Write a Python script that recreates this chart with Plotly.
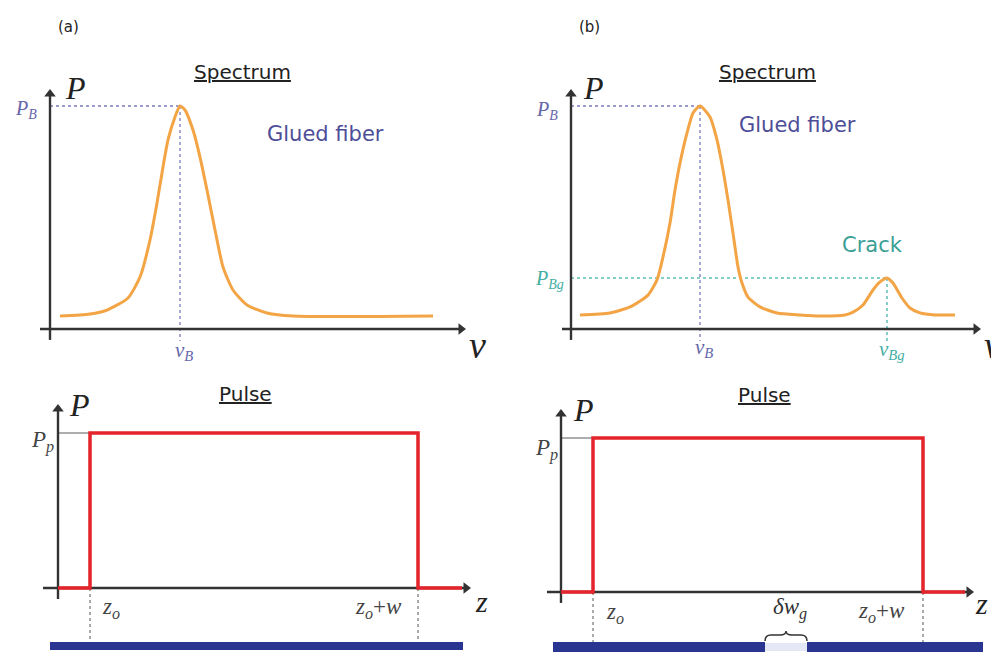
import plotly.graph_objects as go

W, H = 991, 652

# ---------------- data (normalised power P, frequency nu / position z, arbitrary units) ----------------
# (a) spectrum: glued fiber only
spec_a_nu = [1.0, 4.0, 5.7, 7.8, 9.0, 10.0, 10.7, 11.2, 11.8, 12.5, 13.0, 13.5, 14.3, 15.0,
             15.7, 16.5, 17.3, 18.3, 19.7, 21.7, 24.3, 38.3]
spec_a_p = [0.058, 0.067, 0.085, 0.139, 0.233, 0.399, 0.565, 0.700, 0.848, 0.951, 1.0, 0.982,
            0.892, 0.771, 0.623, 0.444, 0.278, 0.175, 0.108, 0.072, 0.058, 0.058]
# (b) spectrum: glued fiber + crack
spec_b_nu = [0.9, 3.9, 5.9, 7.7, 8.6, 9.2, 9.9, 10.4, 10.9, 11.6, 12.2, 12.9,
             13.9, 14.6, 15.2, 15.7, 16.2, 16.7, 17.1, 17.7, 18.9, 20.6, 22.9, 24.9,
             27.4, 28.2, 29.2, 30.2, 30.9, 31.6, 32.2, 33.1, 33.9, 34.9, 36.4, 38.4]
spec_b_p = [0.063, 0.072, 0.099, 0.152, 0.220, 0.323, 0.475, 0.623, 0.744, 0.879, 0.969, 1.0,
            0.951, 0.848, 0.713, 0.578, 0.430, 0.278, 0.206, 0.143, 0.099, 0.072, 0.063, 0.058,
            0.063, 0.076, 0.108, 0.175, 0.211, 0.229, 0.206, 0.139, 0.094, 0.072, 0.063, 0.063]
NU_B_A, NU_B_B = 13.0, 12.9
P_B = 1.0
NU_BG, P_BG = 31.6, 0.229

# pulses
pulse_a_z = [0, 3.2, 3.2, 36.0, 36.0, 40.4]
pulse_b_z = [0, 3.2, 3.2, 36.2, 36.2, 40.4]
pulse_p = [0, 0, 1, 1, 0, 0]
P_P = 1.0
Z0_A, ZW_A = 3.2, 36.0
Z0_B, ZW_B = 3.2, 36.2

# fiber segments under the pulses
fiber_a_z = [-0.8, 40.5]
fiber_b_z = [-0.8, 42.2]
gap_b_z = [20.4, 24.6]

# ---------------- geometry ----------------
PANELS = [
    # x ref, y ref, pixel box (x0,x1,y0,y1), origin px, px per unit
    ("x", "y", (0, 495, 40, 372), (50, 329), (10, 223)),
    ("x2", "y2", (500, 991, 40, 372), (571, 329), (10, 223)),
    ("x3", "y3", (0, 495, 375, 652), (58, 588), (10, 155)),
    ("x4", "y4", (500, 991, 375, 652), (561, 592), (10, 154)),
]
SCALE = {p[0]: p[4] for p in PANELS}

fig = go.Figure()
layout = dict(width=W, height=H, margin=dict(l=0, r=0, t=0, b=0),
              paper_bgcolor="white", plot_bgcolor="white", showlegend=False,
              hovermode=False)
for xr, yr, (bx0, bx1, by0, by1), (ox, oy), (sx, sy) in PANELS:
    xk = "xaxis" + xr[1:]
    yk = "yaxis" + yr[1:]
    common = dict(showgrid=False, zeroline=False, showticklabels=False, ticks="",
                  showline=False, fixedrange=True)
    layout[xk] = dict(domain=[bx0 / W, bx1 / W], range=[(bx0 - ox) / sx, (bx1 - ox) / sx],
                      anchor=yr, **common)
    layout[yk] = dict(domain=[1 - by1 / H, 1 - by0 / H], range=[(oy - by1) / sy, (oy - by0) / sy],
                      anchor=xr, **common)
fig.update_layout(**layout)

AX = "#333333"
ORANGE = "#f3a445"
RED = "#e5232a"
BLUE_T = "#6666aa"
BLUE_L = "#7b7bbd"
TEAL_T = "#45aea4"
TEAL_L = "#5cc0b6"
NAVY = "#293590"
SERIF = "Liberation Serif"
SANS = "DejaVu Sans"


def line(xs, ys, xr, yr, color, width, dash="solid"):
    fig.add_trace(go.Scatter(x=xs, y=ys, xaxis=xr, yaxis=yr, mode="lines",
                             line=dict(color=color, width=width, dash=dash),
                             hoverinfo="skip"))


def head(xr, yr, x, y, symbol):
    fig.add_trace(go.Scatter(x=[x], y=[y], xaxis=xr, yaxis=yr, mode="markers",
                             marker=dict(symbol=symbol, size=10, color=AX,
                                         line=dict(width=0)),
                             hoverinfo="skip"))


def axes(xr, yr, x0, x1, y0, y1):
    sx, sy = SCALE[xr]
    line([x0, x1 - 4 / sx], [0, 0], xr, yr, AX, 2.4)
    line([0, 0], [y0, y1 - 4 / sy], xr, yr, AX, 2.4)
    return (lambda: (head(xr, yr, x1 - 4 / sx, 0, "triangle-right"),
                     head(xr, yr, 0, y1 - 4 / sy, "triangle-up")))


annotations = []


def ptext(text, x, y, size, color, family, **kw):
    d = dict(text=text, x=x / W, y=1 - y / H, xref="paper", yref="paper", showarrow=False,
             font=dict(size=size, color=color, family=family), xanchor="center", yanchor="middle")
    d.update(kw)
    annotations.append(d)


def dtext(text, xr, yr, x, y, xs, ys, size, color):
    annotations.append(dict(text=text, x=x, y=y, xref=xr, yref=yr, showarrow=False,
                            xshift=xs, yshift=ys, xanchor="center", yanchor="middle",
                            font=dict(size=size, color=color, family=SERIF)))


# ---------- (a) spectrum ----------
line([0, NU_B_A], [P_B, P_B], "x", "y", BLUE_L, 1.3, "dot")
line([NU_B_A, NU_B_A], [P_B, -0.054], "x", "y", BLUE_L, 1.3, "dot")
heads = axes("x", "y", -1.0, 41.5, -0.049, 1.072)
heads()
fig.add_trace(go.Scatter(x=spec_a_nu, y=spec_a_p, xaxis="x", yaxis="y", mode="lines",
                         line=dict(color=ORANGE, width=3, shape="spline", smoothing=0.6),
                         hoverinfo="skip"))

# ---------- (b) spectrum ----------
line([0, NU_B_B], [P_B, P_B], "x2", "y2", BLUE_L, 1.3, "dot")
line([NU_B_B, NU_B_B], [P_B, -0.054], "x2", "y2", BLUE_L, 1.3, "dot")
line([0, NU_BG], [P_BG, P_BG], "x2", "y2", TEAL_L, 1.5, "dot")
line([NU_BG, NU_BG], [P_BG, -0.054], "x2", "y2", TEAL_L, 1.5, "dot")
heads = axes("x2", "y2", -0.9, 40.9, -0.049, 1.072)
heads()
fig.add_trace(go.Scatter(x=spec_b_nu, y=spec_b_p, xaxis="x2", yaxis="y2", mode="lines",
                         line=dict(color=ORANGE, width=3, shape="spline", smoothing=0.6),
                         hoverinfo="skip"))

# ---------- (a) pulse ----------
line([fiber_a_z[0], fiber_a_z[1]], [-0.374, -0.374], "x3", "y3", NAVY, 8)
line([0, Z0_A], [P_P, P_P], "x3", "y3", "#777777", 1.2)
line([Z0_A, Z0_A], [0, -0.348], "x3", "y3", "#555555", 1, "dot")
line([ZW_A, ZW_A], [0, -0.348], "x3", "y3", "#555555", 1, "dot")
heads = axes("x3", "y3", -1.5, 41.2, -0.071, 1.181)
line(pulse_a_z, pulse_p, "x3", "y3", RED, 3.5)
heads()

# ---------- (b) pulse ----------
line([fiber_b_z[0], gap_b_z[0]], [-0.357, -0.357], "x4", "y4", NAVY, 10)
line([gap_b_z[1], fiber_b_z[1]], [-0.357, -0.357], "x4", "y4", NAVY, 10)
line(gap_b_z, [-0.357, -0.357], "x4", "y4", "#e4e8f6", 8)
line([0, Z0_B], [P_P, P_P], "x4", "y4", "#777777", 1.2)
line([Z0_B, Z0_B], [0, -0.325], "x4", "y4", "#555555", 1, "dot")
line([ZW_B, ZW_B], [0, -0.325], "x4", "y4", "#555555", 1, "dot")
heads = axes("x4", "y4", -1.4, 41.2, -0.071, 1.182)
line(pulse_b_z, pulse_p, "x4", "y4", RED, 3.5)
heads()

# brace over the crack gap
g0, g1 = gap_b_z
gm = (g0 + g1) / 2
brace = (f"M {g0},-0.318 Q {g0},-0.279 {g0 + 0.6},-0.279 L {gm - 0.6},-0.279 "
         f"Q {gm},-0.279 {gm},-0.253 Q {gm},-0.279 {gm + 0.6},-0.279 "
         f"L {g1 - 0.6},-0.279 Q {g1},-0.279 {g1},-0.318")
fig.add_shape(type="path", path=brace, xref="x4", yref="y4",
              line=dict(color="#333333", width=1.5))

# ---------- texts ----------
ptext("(a)", 68, 27, 15, "#222222", SANS)
ptext("(b)", 589, 27, 15, "#222222", SANS)
ptext("<u>Spectrum</u>", 242, 72, 20, "#222222", SANS)
ptext("<u>Spectrum</u>", 767, 72, 20, "#222222", SANS)
ptext("<u>Pulse</u>", 245, 394, 20, "#222222", SANS)
ptext("<u>Pulse</u>", 764, 395, 20, "#222222", SANS)
ptext("Glued fiber", 325, 134, 21, "#4e4e98", SANS)
ptext("Glued fiber", 797, 125, 21, "#4e4e98", SANS)
ptext("Crack", 872, 245, 21, "#3a9f96", SANS)

ptext("<i>P</i>", 75, 88, 32, "#222222", SERIF)
ptext("<i>P</i>", 593, 88, 32, "#222222", SERIF)
ptext("<i>ν</i>", 477, 345, 38, "#222222", SERIF)
ptext("<i>ν</i>", 992, 345, 38, "#222222", SERIF, xanchor="center")
ptext("<i>P</i>", 79, 405, 32, "#222222", SERIF)
ptext("<i>P</i>", 583, 410, 32, "#222222", SERIF)
ptext("<i>z</i>", 481, 601, 30, "#222222", SERIF)
ptext("<i>z</i>", 981, 603, 30, "#222222", SERIF)

dtext("<i>P</i><sub><i>B</i></sub>", "x", "y", 0, P_B, -24, -4, 20, BLUE_T)
dtext("<i>ν</i><sub><i>B</i></sub>", "x", "y", NU_B_A, 0, 4, -22, 21, BLUE_T)
dtext("<i>P</i><sub><i>B</i></sub>", "x2", "y2", 0, P_B, -24, -5, 20, BLUE_T)
dtext("<i>ν</i><sub><i>B</i></sub>", "x2", "y2", NU_B_B, 0, 4, -19, 21, BLUE_T)
dtext("<i>P</i><sub><i>Bg</i></sub>", "x2", "y2", 0, P_BG, -22, -2, 20, TEAL_T)
dtext("<i>ν</i><sub><i>Bg</i></sub>", "x2", "y2", NU_BG, 0, 5, -21, 21, TEAL_T)

dtext("<i>P</i><sub><i>p</i></sub>", "x3", "y3", 0, P_P, -16, -8, 23, "#444444")
dtext("<i>z</i><sub><i>o</i></sub>", "x3", "y3", Z0_A, 0, 21, -20, 23, "#444444")
dtext("<i>z</i><sub><i>o</i></sub>+<i>w</i>", "x3", "y3", ZW_A, 0, -40, -20, 23, "#444444")
dtext("<i>P</i><sub><i>p</i></sub>", "x4", "y4", 0, P_P, -15, -11, 23, "#444444")
dtext("<i>z</i><sub><i>o</i></sub>", "x4", "y4", Z0_B, 0, 22, -21, 23, "#444444")
dtext("<i>z</i><sub><i>o</i></sub>+<i>w</i>", "x4", "y4", ZW_B, 0, -42, -20, 23, "#444444")
dtext("<i>δw</i><sub><i>g</i></sub>", "x4", "y4", gm, 0, 4, -16, 23, "#333333")

fig.update_layout(annotations=annotations)
fig.write_html("out.html")
